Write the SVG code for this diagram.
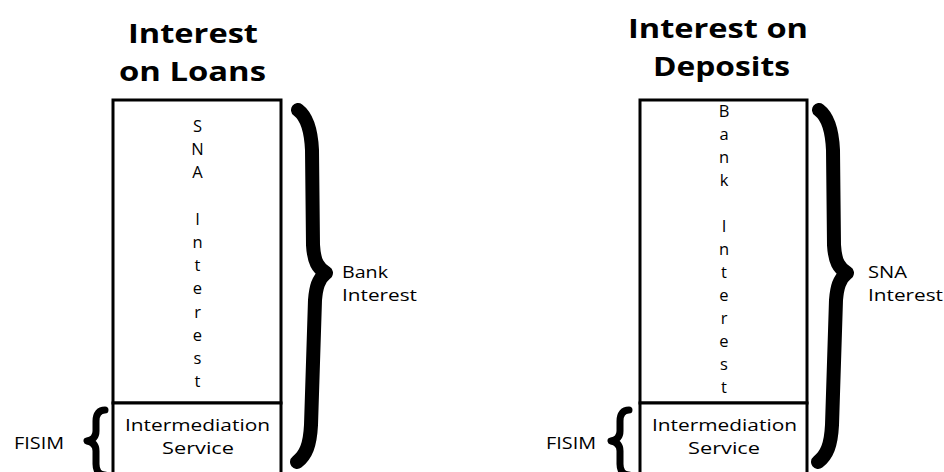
<svg xmlns="http://www.w3.org/2000/svg" width="944" height="472" viewBox="0 0 944 472">
<style>
text{font-family:"Open Sans","Noto Sans","Liberation Sans",sans-serif;fill:#000}
.title{font-size:27.5px;font-weight:bold}
.lbl{font-size:16.5px}
.vert{font-size:16.5px;text-anchor:middle}
.box{fill:#fff;stroke:#000;stroke-width:3}
.big{fill:none;stroke:#000;stroke-width:14;stroke-linecap:round;stroke-linejoin:round}
.small{fill:none;stroke:#000;stroke-width:7;stroke-linecap:round;stroke-linejoin:round}
</style>
<g id="title-loans">
<text class="title" x="128" y="43" textLength="130" lengthAdjust="spacingAndGlyphs">Interest</text>
<text class="title" x="119" y="81" textLength="147" lengthAdjust="spacingAndGlyphs">on Loans</text>
</g>
<g id="title-deposits">
<text class="title" x="628" y="38" textLength="180" lengthAdjust="spacingAndGlyphs">Interest on</text>
<text class="title" x="653" y="76" textLength="137" lengthAdjust="spacingAndGlyphs">Deposits</text>
</g>
<g id="loans-sna-interest">
<rect class="box" x="113" y="100" width="168" height="303"/>
<text class="vert" y="132"><tspan x="197.5">S</tspan><tspan x="197.5" dy="23.2">N</tspan><tspan x="197.5" dy="23.2">A</tspan><tspan x="197.5" dy="46.4">I</tspan><tspan x="197.5" dy="23.2">n</tspan><tspan x="197.5" dy="23.2">t</tspan><tspan x="197.5" dy="23.2">e</tspan><tspan x="197.5" dy="23.2">r</tspan><tspan x="197.5" dy="23.2">e</tspan><tspan x="197.5" dy="23.2">s</tspan><tspan x="197.5" dy="23.2">t</tspan></text>
</g>
<g id="loans-intermediation">
<rect class="box" x="113" y="403" width="168" height="80"/>
<text class="lbl" x="125" y="431" textLength="145" lengthAdjust="spacingAndGlyphs">Intermediation</text>
<text class="lbl" x="162" y="454" textLength="72" lengthAdjust="spacingAndGlyphs">Service</text>
</g>
<g id="deposits-bank-interest">
<rect class="box" x="640" y="100" width="167" height="303"/>
<text class="vert" y="117"><tspan x="724">B</tspan><tspan x="724" dy="23">a</tspan><tspan x="724" dy="23">n</tspan><tspan x="724" dy="23">k</tspan><tspan x="724" dy="46">I</tspan><tspan x="724" dy="23">n</tspan><tspan x="724" dy="23">t</tspan><tspan x="724" dy="23">e</tspan><tspan x="724" dy="23">r</tspan><tspan x="724" dy="23">e</tspan><tspan x="724" dy="23">s</tspan><tspan x="724" dy="23">t</tspan></text>
</g>
<g id="deposits-intermediation">
<rect class="box" x="640" y="403" width="167" height="80"/>
<text class="lbl" x="652" y="431" textLength="145" lengthAdjust="spacingAndGlyphs">Intermediation</text>
<text class="lbl" x="688" y="454" textLength="72" lengthAdjust="spacingAndGlyphs">Service</text>
</g>
<g id="connectors">
<path class="big" d="M298,110 C306,116 311,128 312,150 L313,245 C314,262 318,268 326,273 C318,279 316,288 315,300 L311,425 C310,445 306,455 297,462"/>
<path class="big" transform="translate(521,0)" d="M298,110 C306,116 311,128 312,150 L313,245 C314,262 318,268 326,273 C318,279 316,288 315,300 L311,425 C310,445 306,455 297,462"/>
<path class="small" d="M105,410 C99,410 96,414 96,421 L96,431 C96,437 93,440 87,441 C93,442 96,445 96,451 L96,464 C96,471 99,475 105,475"/>
<path class="small" transform="translate(524,0)" d="M105,410 C99,410 96,414 96,421 L96,431 C96,437 93,440 87,441 C93,442 96,445 96,451 L96,464 C96,471 99,475 105,475"/>
</g>
<g id="label-bank-interest">
<text class="lbl" x="342" y="278" textLength="46" lengthAdjust="spacingAndGlyphs">Bank</text>
<text class="lbl" x="342" y="301" textLength="75" lengthAdjust="spacingAndGlyphs">Interest</text>
</g>
<g id="label-sna-interest">
<text class="lbl" x="868" y="278" textLength="39" lengthAdjust="spacingAndGlyphs">SNA</text>
<text class="lbl" x="868" y="301" textLength="75" lengthAdjust="spacingAndGlyphs">Interest</text>
</g>
<g id="label-fisim-loans">
<text class="lbl" x="14" y="449" textLength="50" lengthAdjust="spacingAndGlyphs">FISIM</text>
</g>
<g id="label-fisim-deposits">
<text class="lbl" x="546" y="449" textLength="50" lengthAdjust="spacingAndGlyphs">FISIM</text>
</g>
</svg>
